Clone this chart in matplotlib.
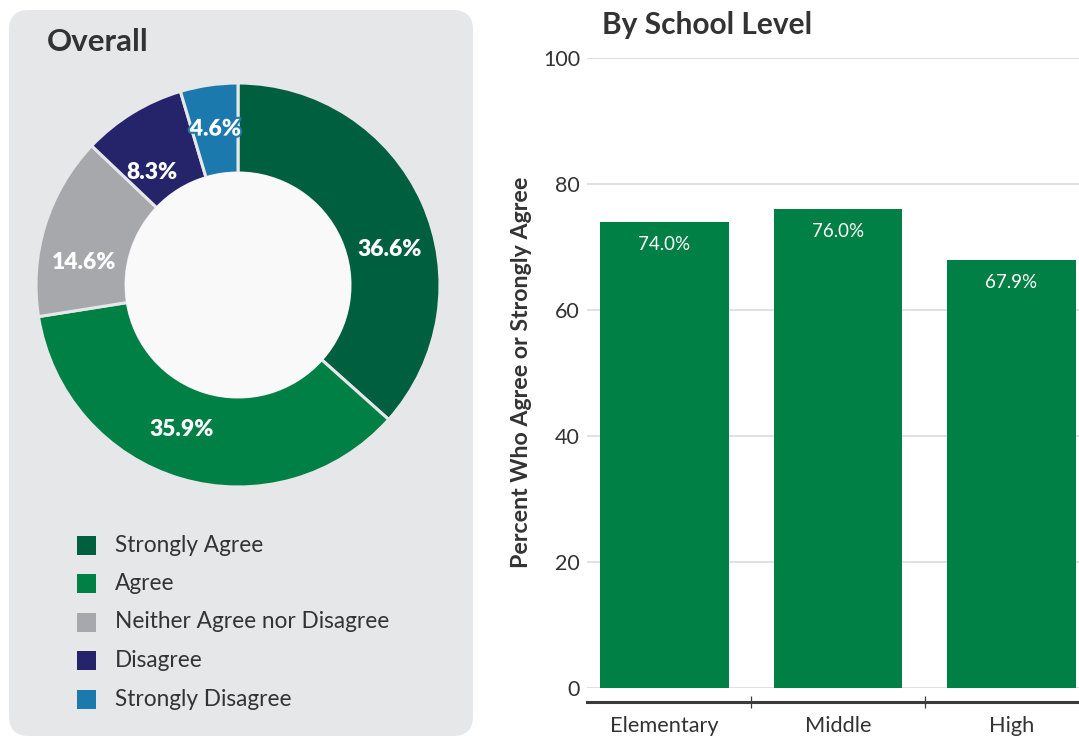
import matplotlib
matplotlib.use("Agg")
import numpy as np
import matplotlib.pyplot as plt
import matplotlib.patheffects as pe
from matplotlib.patches import FancyBboxPatch, Rectangle, Circle

# ── Datos ──────────────────────────────────────────────────────────────────
resp_labels = ["Strongly Agree", "Agree", "Neither Agree nor Disagree",
               "Disagree", "Strongly Disagree"]
resp_values = [36.6, 35.9, 14.6, 8.3, 4.6]

levels = ["Elementary", "Middle", "High"]
level_values = [74.0, 76.0, 67.9]
y_ticks = [0, 20, 40, 60, 80, 100]

# ── Paleta ────────────────────────────────────────────────────────────────
RESP_CLR = ["#005f3e", "#008045", "#a7a8ab", "#25246b", "#1c79ad"]
BAR_CLR = "#008045"
PANEL = "#e6e7e9"
HOLE = "#f9f9f9"
TXT = "#333333"
GRID = "#dcdcdc"
AXIS = "#3b3b3b"

W, H = 1079, 736
plt.rcParams["font.family"] = ["Lato", "DejaVu Sans"]

fig = plt.figure(figsize=(W / 100, H / 100), dpi=100, facecolor="white")


def box(x, y, w, h):
    # rectángulo en píxeles (origen arriba a la izquierda) -> fracción de figura
    return [x / W, 1 - (y + h) / H, w / W, h / H]


# capa de fondo en coordenadas de píxel
bg = fig.add_axes([0, 0, 1, 1], zorder=0)
bg.set_xlim(0, W); bg.set_ylim(H, 0); bg.set_axis_off()
bg.add_patch(FancyBboxPatch((9, 10), 464, 726, boxstyle="round,pad=0,rounding_size=20",
                            facecolor=PANEL, edgecolor="none"))
bg.text(47, 42, "Overall", fontsize=22.5, fontweight="bold", color=TXT, va="center", ha="left")
bg.text(602, 25, "By School Level", fontsize=21.5, fontweight="bold", color=TXT,
        va="center", ha="left")
bg.text(521, 372, "Percent Who Agree or Strongly Agree", fontsize=16.7, fontweight="bold",
        color=TXT, rotation=90, ha="center", va="center")

# leyenda
for i, (lab, clr) in enumerate(zip(resp_labels, RESP_CLR)):
    yc = 545 + i * 38.5
    bg.add_patch(Rectangle((77, yc - 9.5), 19, 19, facecolor=clr, edgecolor="none"))
    bg.text(115, yc, lab, fontsize=16.3, color=TXT, va="center", ha="left")

# ── Dona ──────────────────────────────────────────────────────────────────
R_OUT, R_IN = 202, 112
axp = fig.add_axes(box(238 - R_OUT, 285 - R_OUT, 2 * R_OUT, 2 * R_OUT), zorder=1)
wedges, _ = axp.pie(resp_values, colors=RESP_CLR, startangle=90, counterclock=False,
                    radius=1, wedgeprops=dict(width=1 - R_IN / R_OUT, edgecolor=PANEL,
                                              linewidth=2.2))
axp.set_xlim(-1, 1); axp.set_ylim(-1, 1); axp.set_axis_off()
axp.add_patch(Circle((0, 0), R_IN / R_OUT + 0.005, facecolor=HOLE, edgecolor="none", zorder=5))

# ajuste de ángulo (grados) y radio de cada etiqueta dentro de su sector
nudge = [-11, -5, 9, 6, 0]
lab_r = [0.77, 0.77, 0.77, 0.70, 0.78]
for w, v, dn, r in zip(wedges, resp_values, nudge, lab_r):
    ang = np.deg2rad((w.theta1 + w.theta2) / 2 + dn)
    t = axp.text(r * np.cos(ang), r * np.sin(ang), f"{v:.1f}%", fontsize=16.5,
                 fontweight="heavy", color="white", ha="center", va="center", zorder=6)
    if v < 5:
        t.set_path_effects([pe.withStroke(linewidth=3, foreground=w.get_facecolor())])

# ── Barras ────────────────────────────────────────────────────────────────
axb = fig.add_axes(box(587, 58, W - 587, 630), zorder=1)
axb.set_facecolor("none")
x = np.arange(len(levels))
axb.bar(x, level_values, width=0.743, color=BAR_CLR, zorder=3)
axb.set_xlim(-0.447, 2.389)
axb.set_ylim(0, 100)
axb.set_yticks(y_ticks)
axb.set_yticklabels([str(t) for t in y_ticks])
axb.grid(axis="y", color=GRID, lw=1.2, zorder=0)
axb.tick_params(axis="y", length=0, pad=5, labelsize=15.5, labelcolor=TXT)
for sp in ["left", "right", "top"]:
    axb.spines[sp].set_visible(False)
axb.spines["bottom"].set_position(("outward", 10))
axb.spines["bottom"].set_color(AXIS)
axb.spines["bottom"].set_linewidth(2.2)
axb.set_xticks(x)
axb.set_xticklabels(levels)
axb.tick_params(axis="x", which="major", length=0, pad=10, labelsize=15.7, labelcolor=TXT)
axb.set_xticks([0.5, 1.5], minor=True)
axb.tick_params(axis="x", which="minor", direction="inout", length=8, width=0.9, color=AXIS)

for xi, v in zip(x, level_values):
    axb.annotate(f"{v:.1f}%", (xi, v), xytext=(0, -16), textcoords="offset points",
                 ha="center", va="center", fontsize=13.5, color="white", zorder=4)

fig.savefig("out.png", dpi=100, facecolor="white")
